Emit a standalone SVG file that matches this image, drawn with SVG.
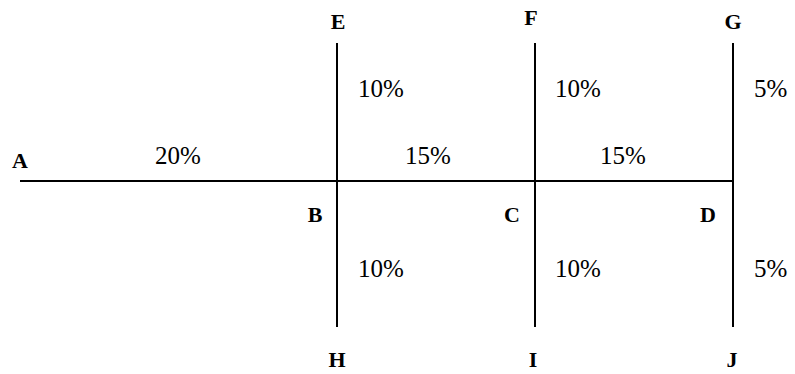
<svg xmlns="http://www.w3.org/2000/svg" width="795" height="374" viewBox="0 0 795 374">
<style>
.ln{stroke:#000;stroke-width:2;fill:none}
.lbl{font-weight:bold;font-size:22px;text-anchor:middle;fill:#000}
.pct{font-size:25px;fill:#000}
</style>
<rect width="795" height="374" fill="#fff"/>
<g id="connectors">
<line class="ln" x1="20" y1="181" x2="733" y2="181"/>
<line class="ln" x1="337" y1="43" x2="337" y2="327"/>
<line class="ln" x1="535" y1="43" x2="535" y2="327"/>
<line class="ln" x1="733" y1="43" x2="733" y2="327"/>
</g>
<g font-family="'Liberation Serif', 'Times New Roman', Times, serif">
<g id="A"><text class="lbl" x="20" y="168">A</text></g>
<g id="B"><text class="lbl" x="315" y="222">B</text></g>
<g id="C"><text class="lbl" x="512" y="222">C</text></g>
<g id="D"><text class="lbl" x="708" y="222">D</text></g>
<g id="E"><text class="lbl" x="338" y="29">E</text></g>
<g id="F"><text class="lbl" x="531" y="25">F</text></g>
<g id="G"><text class="lbl" x="733" y="29">G</text></g>
<g id="H"><text class="lbl" x="337" y="367">H</text></g>
<g id="I"><text class="lbl" x="533" y="367">I</text></g>
<g id="J"><text class="lbl" x="732" y="367">J</text></g>
<g id="labels">
<text class="pct" x="155" y="164">20%</text>
<text class="pct" x="405" y="164">15%</text>
<text class="pct" x="600" y="164">15%</text>
<text class="pct" x="358" y="97">10%</text>
<text class="pct" x="555" y="97">10%</text>
<text class="pct" x="754" y="97">5%</text>
<text class="pct" x="358" y="277">10%</text>
<text class="pct" x="555" y="277">10%</text>
<text class="pct" x="754" y="277">5%</text>
</g>
</g>
</svg>
